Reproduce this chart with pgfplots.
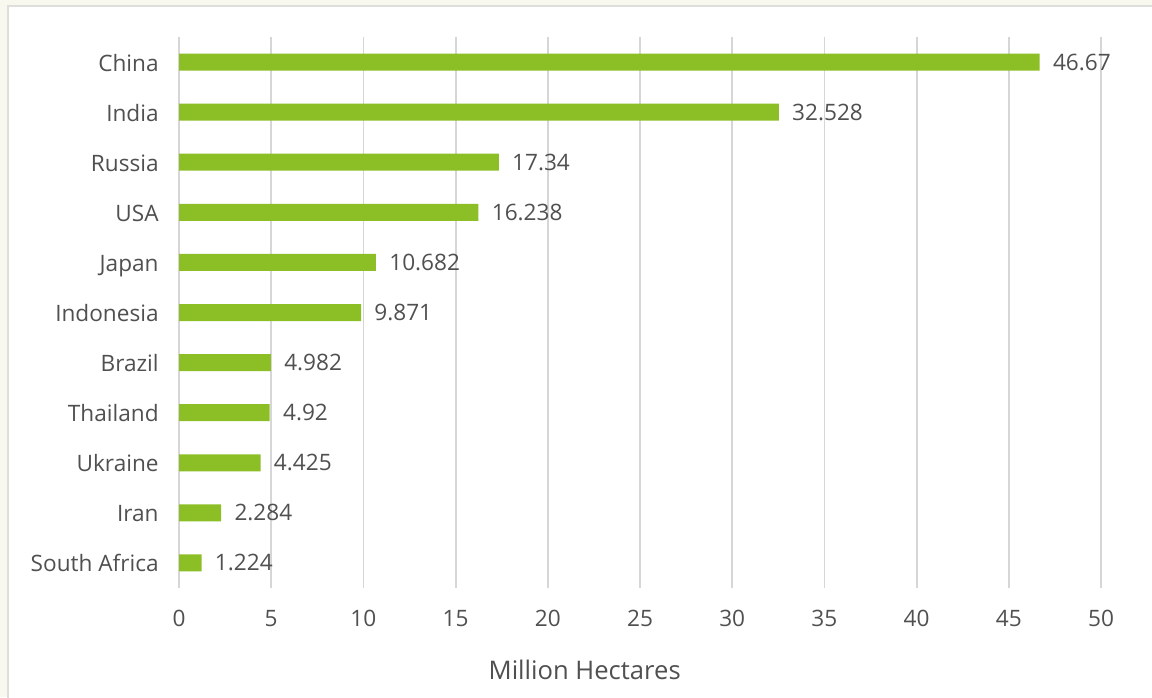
\documentclass[border=0pt]{standalone}
\usepackage{fontspec}
\setmainfont{Open Sans}
\usepackage{pgfplots}
\usepackage{pgfplotstable}
\pgfplotsset{compat=1.18}
\definecolor{bargreen}{HTML}{8CBF26}
\definecolor{txt}{HTML}{505050}
\definecolor{gridc}{HTML}{D6D6D6}
\definecolor{outer}{HTML}{F9F8EE}
\definecolor{panelb}{HTML}{DEDEDA}
\pgfplotstableread{
y x label
0 46.67 46.67
1 32.528 32.528
2 17.34 17.34
3 16.238 16.238
4 10.682 10.682
5 9.871 9.871
6 4.982 4.982
7 4.92 4.92
8 4.425 4.425
9 2.284 2.284
10 1.224 1.224
}\datatable
\begin{document}
\begin{tikzpicture}
\useasboundingbox (0,0) rectangle (576pt,348.5pt);
\clip (0,0) rectangle (576pt,348.5pt);
\fill[outer] (0,0) rectangle (576pt,348.5pt);
\filldraw[fill=white, draw=panelb, line width=1pt] (4pt,-5pt) rectangle (580pt,345.5pt);
\begin{axis}[
  at={(89.5pt,54.5pt)}, anchor=south west,
  scale only axis, width=461pt, height=275.5pt,
  xmin=0, xmax=50, ymin=-0.5, ymax=10.5,
  y dir=reverse,
  xbar, bar width=8.5pt,
  xtick={0,5,...,50},
  ytick={0,...,10},
  yticklabels={China,India,Russia,USA,Japan,Indonesia,Brazil,Thailand,Ukraine,Iran,South Africa},
  xmajorgrids, grid style={color=gridc, line width=0.9pt},
  axis line style={draw=none},
  major tick length=0pt,
  /pgf/number format/assume math mode=true,
  tick label style={font=\fontsize{11.3}{13}\selectfont, text=txt},
  yticklabel style={anchor=east, inner sep=0pt, xshift=-10pt, text height=8pt, text depth=0pt, yshift=-0.5pt},
  xticklabel style={anchor=north, inner sep=0pt, yshift=-11pt},
  xlabel={Million Hectares},
  xlabel style={at={(axis description cs:0.44,0)}, anchor=center, yshift=-41pt, font=\fontsize{12.8}{15}\selectfont, text=txt},
  point meta=explicit symbolic,
  nodes near coords,
  nodes near coords style={anchor=west, inner sep=0pt, xshift=6.5pt, font=\fontsize{11.3}{13}\selectfont, text=txt, text height=8pt, text depth=0pt},
]
\addplot[fill=bargreen, draw=none] table[x=x, y=y, meta=label] {\datatable};
\end{axis}
\end{tikzpicture}
\end{document}
